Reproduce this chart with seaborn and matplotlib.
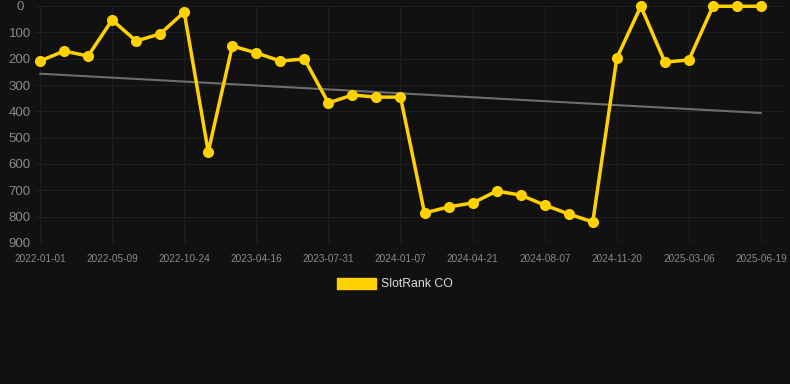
import pandas as pd
import numpy as np
import matplotlib
matplotlib.use('Agg')
import matplotlib.pyplot as plt
import seaborn as sns
from matplotlib.patches import Patch

# Данные графика
tick_labels = ['2022-01-01', '2022-05-09', '2022-10-24', '2023-04-16', '2023-07-31',
               '2024-01-07', '2024-04-21', '2024-08-07', '2024-11-20', '2025-03-06',
               '2025-06-19']
rank = [209, 171, 190, 53, 133, 106, 23, 554, 152, 178, 209, 201, 368, 338, 346,
        346, 786, 763, 748, 703, 718, 756, 790, 820, 198, 1, 213, 205, 1, 1, 1]
series_name = 'SlotRank CO'

df = pd.DataFrame({'idx': np.arange(len(rank)), 'rank': rank})

# линия тренда (линейная регрессия)
k, b = np.polyfit(df['idx'], df['rank'], 1)
df['trend'] = k * df['idx'] + b

bg = '#111111'
sns.set_style('dark', {'axes.facecolor': bg, 'figure.facecolor': bg})
plt.rcParams['font.family'] = ['Liberation Sans', 'DejaVu Sans']

fig = plt.figure(figsize=(7.9, 3.84), dpi=100)
ax = fig.add_axes([35 / 790, 1 - 243 / 384, 750 / 790, 237 / 384])
ax.set_facecolor(bg)

sns.lineplot(data=df, x='idx', y='trend', ax=ax, color='#6e6e6e', linewidth=1.5)
sns.lineplot(data=df, x='idx', y='rank', ax=ax, color='#FFD100', linewidth=2.5,
             marker='o', markersize=8, markeredgewidth=0, clip_on=False)

ax.set_ylim(900, 0)
ax.set_xlim(-5 / 24.03, 30 + 24 / 24.03)
ax.set_yticks(range(0, 901, 100))
ax.set_xticks(range(0, len(rank), 3))
ax.set_xticklabels(tick_labels)
ax.tick_params(axis='y', colors='#8a8a8a', labelsize=9.5, length=0, pad=11)
ax.tick_params(axis='x', colors='#8a8a8a', labelsize=7.2, length=0, pad=8)
for t in ax.get_yticklabels():
    t.set_horizontalalignment('center')
ax.grid(True, color='#1f1f1f', linewidth=0.8)
ax.set_xlabel('')
ax.set_ylabel('')
for s in ax.spines.values():
    s.set_visible(False)
ax.axhline(900, color='#2c2c2c', linewidth=1)

handle = Patch(color='#FFD100', label=series_name)
fig.legend(handles=[handle], loc='center', bbox_to_anchor=(0.5, 1 - 284 / 384),
           frameon=False, handlelength=3.2, handleheight=1.0, fontsize=8.8,
           labelcolor='#dddddd', handletextpad=0.4)

fig.savefig('out.png', dpi=100, facecolor=bg)
